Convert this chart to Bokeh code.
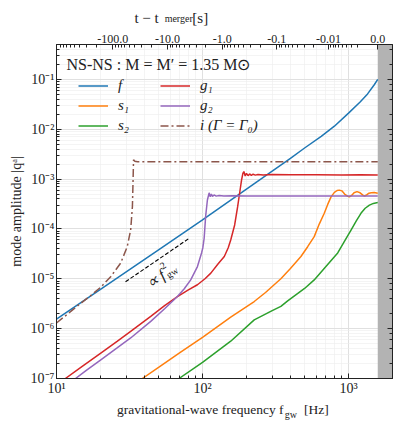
import math
from bokeh.plotting import figure
from bokeh.models import (LogAxis, FixedTicker, CustomJSTickFormatter, Label, Legend,
                          LegendItem, BoxAnnotation)
from bokeh.embed import file_html
from bokeh.resources import INLINE

FONT = "Liberation Serif"

# ---------------- data ----------------
f_f = [10, 20, 50, 100, 200, 300, 400, 500, 650, 800, 1000, 1200, 1350, 1500, 1585]
q_f = [1.55e-6, 6.1e-6, 3.8e-5, 1.52e-4, 6.3e-4, 1.45e-3, 2.6e-3, 4.2e-3, 7.2e-3,
       1.15e-2, 2.1e-2, 3.5e-2, 5.1e-2, 7.8e-2, 0.1]

f_s1 = [38.7, 50, 70, 100, 156, 226, 270, 344, 400, 472, 525, 582, 630, 682, 720, 759,
        800, 835, 865, 900, 940, 987, 1014, 1050, 1090, 1143, 1200, 1260, 1287, 1330,
        1380, 1430, 1500, 1585]
q_s1 = [1e-7, 1.67e-7, 3.3e-7, 6.7e-7, 1.7e-6, 3.5e-6, 5.3e-6, 1.0e-5, 1.6e-5, 2.8e-5,
        4.4e-5, 7.0e-5, 1.25e-4, 2.06e-4, 3.1e-4, 4.4e-4, 5.4e-4, 5.9e-4, 6.0e-4, 5.8e-4,
        5.0e-4, 4.5e-4, 4.4e-4, 4.7e-4, 5.3e-4, 5.6e-4, 5.3e-4, 4.7e-4, 4.57e-4, 4.8e-4,
        5.2e-4, 5.3e-4, 5.4e-4, 5.2e-4]

f_s2 = [69, 100, 156, 226, 300, 344, 383, 500, 582, 700, 843, 950, 1040, 1130, 1216,
        1300, 1390, 1480, 1585]
q_s2 = [1e-7, 2.1e-7, 5.6e-7, 1.5e-6, 2.3e-6, 2.8e-6, 3.6e-6, 6.4e-6, 9.5e-6, 1.77e-5,
        3.3e-5, 6.0e-5, 9.5e-5, 1.45e-4, 2.06e-4, 2.6e-4, 3.0e-4, 3.25e-4, 3.4e-4]

f_g1 = [11.5, 15, 20, 26, 32.2, 44.2, 55, 67.3, 80, 92.3, 104, 114, 128, 141, 150, 156,
        166, 174, 180, 185, 189, 192, 196, 200, 205, 210, 216, 222, 230, 240, 260, 300,
        400, 600, 900, 1200, 1585]
q_g1 = [1e-7, 1.75e-7, 3.2e-7, 5.55e-7, 8.8e-7, 1.76e-6, 2.9e-6, 4.4e-6, 6.0e-6, 7.6e-6,
        1.0e-5, 1.3e-5, 2.0e-5, 2.8e-5, 4.2e-5, 6.0e-5, 1.2e-4, 2.8e-4, 5.5e-4, 9.5e-4,
        1.3e-3, 1.42e-3, 1.15e-3, 1.3e-3, 1.17e-3, 1.27e-3, 1.19e-3, 1.25e-3, 1.2e-3,
        1.24e-3, 1.21e-3, 1.23e-3, 1.22e-3, 1.22e-3, 1.21e-3, 1.22e-3, 1.2e-3]

f_g2 = [13.5, 16, 20, 26, 32.2, 44.2, 55, 67.3, 75, 83, 92.3, 98.5, 100.5, 102.6, 105,
        108, 111, 113, 115, 117, 120, 124, 130, 140, 160, 200, 400, 800, 1585]
q_g2 = [1e-7, 1.45e-7, 2.34e-7, 4.1e-7, 6.5e-7, 1.4e-6, 2.5e-6, 4.4e-6, 6.3e-6, 9.5e-6,
        1.76e-5, 3.3e-5, 4.2e-5, 6.5e-5, 1.76e-4, 3.8e-4, 5.3e-4, 4.4e-4, 5.0e-4, 4.5e-4,
        4.8e-4, 4.55e-4, 4.7e-4, 4.6e-4, 4.65e-4, 4.6e-4, 4.6e-4, 4.6e-4, 4.6e-4]

f_i = [10, 12, 14, 17, 20, 23.5, 27.5, 30.5, 32.2, 33.1, 33.4, 33.7, 34.2, 35, 36, 1585]
q_i = [1.3e-6, 2.0e-6, 2.9e-6, 4.5e-6, 6.7e-6, 1.1e-5, 2.06e-5, 4.4e-5, 9.5e-5, 2.8e-4,
       8e-4, 2.45e-3, 2.3e-3, 2.24e-3, 2.22e-3, 2.22e-3]

# f_gw^2 guide line
f_guide = [29.7, 80.5]
q_guide = [8.7e-6, 6.4e-5]

# top axis: time to merger
t_major = [-100.0, -10.0, -1.0, -0.1, -0.01, 0.0]
t_labels = ["-100.0", "-10.0", "-1.0", "-0.1", "-0.01", "0.0"]
F_MERGER = 1585.0
M_CHIRP = 1.175          # solar masses
T_SUN = 4.925e-6         # s

X_RANGE = (10, 2000)
Y_RANGE = (1e-7, 0.5)

C_BLUE, C_ORANGE, C_GREEN = "#1f77b4", "#ff7f0e", "#2ca02c"
C_RED, C_PURPLE, C_BROWN = "#d62728", "#9467bd", "#8c564b"

# axis-title pieces (text, anchor frequency used for horizontal placement)
XLABEL_MAIN = ["gravitational-wave frequency f", "[Hz]"]
XLABEL_MAIN_AT = [96.6, 603.0]
XLABEL_SUB = ["gw"]
XLABEL_SUB_AT = [403.0]
TTITLE_MAIN = ["t \u2212 t", "[s]"]
TTITLE_MAIN_AT = [41.4, 96.5]
TTITLE_SUB = ["merger"]
TTITLE_SUB_AT = [68.7]


def tau_of_f(f):
    gm = M_CHIRP * T_SUN
    return 5.0 / 256.0 * gm ** (-5.0 / 3.0) * (math.pi * f) ** (-8.0 / 3.0)


def f_of_t(t):
    tau = -t + tau_of_f(F_MERGER)
    gm = M_CHIRP * T_SUN
    return (5.0 / 256.0 * gm ** (-5.0 / 3.0) / tau) ** (3.0 / 8.0) / math.pi


top_major_f = [f_of_t(t) for t in t_major]
top_minor_f = []
for n in range(-3, 3):
    for k in range(2, 10):
        fm = f_of_t(-k * 10.0 ** n)
        if X_RANGE[0] < fm < F_MERGER:
            top_minor_f.append(fm)

# ---------------- figure ----------------
p = figure(width=396, height=422, x_axis_type="log", y_axis_type="log",
           x_range=X_RANGE, y_range=Y_RANGE, output_backend="svg",
           toolbar_location=None, min_border_left=56, min_border_right=4,
           min_border_top=44, min_border_bottom=43)
p.outline_line_color = "#222222"
p.background_fill_color = "white"

for g in (p.xgrid, p.ygrid):
    g.grid_line_color = "#dcdcdc"
    g.grid_line_width = 0.8
    g.minor_grid_line_color = "#ececec"
    g.minor_grid_line_width = 0.6

SUP = "const m={'-':'\u207b','0':'\u2070','1':'\u00b9','2':'\u00b2','3':'\u00b3','4':'\u2074','5':'\u2075','6':'\u2076','7':'\u2077','8':'\u2078','9':'\u2079'};"
pow_fmt = CustomJSTickFormatter(code=SUP + """
const e = Math.round(Math.log10(tick));
return '10' + String(e).split('').map(c => m[c]).join('');
""")
blank_fmt = CustomJSTickFormatter(code="return '';")
NEAREST = """
let best = 0, d = 1e9;
for (let j = 0; j < fs.length; j++) {
  const dd = Math.abs(Math.log(tick) - Math.log(fs[j]));
  if (dd < d) { d = dd; best = j; }
}
return labs[best];
"""


def style_axis(ax, size="13px"):
    ax.major_tick_in = 5
    ax.major_tick_out = 0
    ax.minor_tick_in = 3
    ax.minor_tick_out = 0
    ax.axis_line_color = "#222222"
    ax.major_tick_line_color = "#222222"
    ax.minor_tick_line_color = "#222222"
    ax.major_label_text_font = FONT
    ax.major_label_text_font_size = size
    ax.major_label_text_color = "#222222"
    ax.major_label_standoff = 3


p.xaxis.formatter = pow_fmt
p.yaxis.formatter = pow_fmt
style_axis(p.xaxis[0], "14px")
style_axis(p.yaxis[0], "14px")
p.xaxis[0].major_label_standoff = 2
p.yaxis[0].major_label_standoff = 2
p.yaxis[0].axis_label = "mode amplitude |q\u1d43|"
p.yaxis[0].axis_label_text_font = FONT
p.yaxis[0].axis_label_text_font_size = "14px"
p.yaxis[0].axis_label_text_font_style = "normal"
p.yaxis[0].axis_label_text_color = "#222222"
p.yaxis[0].axis_label_standoff = 4

right = LogAxis(formatter=blank_fmt)
style_axis(right)
p.add_layout(right, "right")

top = LogAxis(ticker=FixedTicker(ticks=top_major_f, minor_ticks=top_minor_f),
              formatter=CustomJSTickFormatter(args=dict(fs=top_major_f, labs=t_labels),
                                              code=NEAREST))
style_axis(top, "12px")
top.major_label_standoff = 2
p.add_layout(top, "above")


def text_axis(place, xs, texts, size, standoff):
    ax = LogAxis(ticker=FixedTicker(ticks=xs, minor_ticks=[]),
                 formatter=CustomJSTickFormatter(args=dict(fs=xs, labs=texts), code=NEAREST))
    ax.axis_line_color = None
    ax.major_tick_line_color = None
    ax.minor_tick_line_color = None
    ax.major_tick_in = 0
    ax.major_tick_out = 0
    ax.minor_tick_in = 0
    ax.minor_tick_out = 0
    ax.major_label_text_font = FONT
    ax.major_label_text_font_size = size
    ax.major_label_text_color = "#222222"
    ax.major_label_standoff = standoff
    p.add_layout(ax, place)


# x-axis title: "gravitational-wave frequency f_gw [Hz]"
text_axis("below", XLABEL_MAIN_AT, XLABEL_MAIN, "13.5px", 3)
text_axis("below", XLABEL_SUB_AT, XLABEL_SUB, "10px", -11)
# top-axis title: "t - t_merger [s]"
text_axis("above", TTITLE_SUB_AT, TTITLE_SUB, "10px", 8)
text_axis("above", TTITLE_MAIN_AT, TTITLE_MAIN, "15px", -16)

# merger band
p.add_layout(BoxAnnotation(left=F_MERGER, fill_color="#b3b3b3", fill_alpha=1.0,
                           line_color=None, level="underlay"))

LW = 1.5
r_f = p.line(f_f, q_f, line_color=C_BLUE, line_width=LW)
r_s1 = p.line(f_s1, q_s1, line_color=C_ORANGE, line_width=LW)
r_s2 = p.line(f_s2, q_s2, line_color=C_GREEN, line_width=LW)
r_g1 = p.line(f_g1, q_g1, line_color=C_RED, line_width=LW)
r_g2 = p.line(f_g2, q_g2, line_color=C_PURPLE, line_width=LW)
r_i = p.line(f_i, q_i, line_color=C_BROWN, line_width=LW, line_dash="8 3 2 3")
p.line(f_guide, q_guide, line_color="black", line_width=1.1, line_dash="4 2")


def make_legend(items, x, y):
    leg = Legend(items=items, location=(x, y), padding=0, margin=0, spacing=1,
                 glyph_width=30, glyph_height=19, label_height=19, label_standoff=10,
                 label_text_font=FONT, label_text_font_size="15px",
                 label_text_font_style="italic", label_text_color="#222222",
                 background_fill_alpha=0, border_line_alpha=0)
    p.add_layout(leg)


make_legend([LegendItem(label="f", renderers=[r_f]),
             LegendItem(label="s\u2081", renderers=[r_s1]),
             LegendItem(label="s\u2082", renderers=[r_s2])], 22, 243)
make_legend([LegendItem(label="g\u2081", renderers=[r_g1]),
             LegendItem(label="g\u2082", renderers=[r_g2]),
             LegendItem(label="i (\u0393 = \u0393\u2080)", renderers=[r_i])], 104, 243)


def lab(text, x, y, size="15px", align="left", baseline="middle", angle=0.0, style="normal"):
    p.add_layout(Label(text=text, x=x, y=y, x_units="screen", y_units="screen",
                       text_font=FONT, text_font_size=size, text_align=align,
                       text_baseline=baseline, angle=angle, text_font_style=style,
                       text_color="#222222"))


# legend title
lab("NS-NS :  M = M\u2032 = 1.35 M\u2299", 10, 314, size="16px")

# f^2 annotation (rotated)
ang = math.atan2(100.0, 145.75)
ca, sa = math.cos(ang), math.sin(ang)
bx, by = 91, 94
lab("\u221d f", bx, by, size="16px", baseline="alphabetic", angle=ang, style="italic")
lab("2", bx + 21 * ca - 7 * sa, by + 21 * sa + 7 * ca, size="10px",
    baseline="alphabetic", angle=ang)
lab("gw", bx + 21 * ca + 4 * sa, by + 21 * sa - 4 * ca, size="10px",
    baseline="alphabetic", angle=ang)

open("out.html", "w").write(file_html(p, INLINE))
